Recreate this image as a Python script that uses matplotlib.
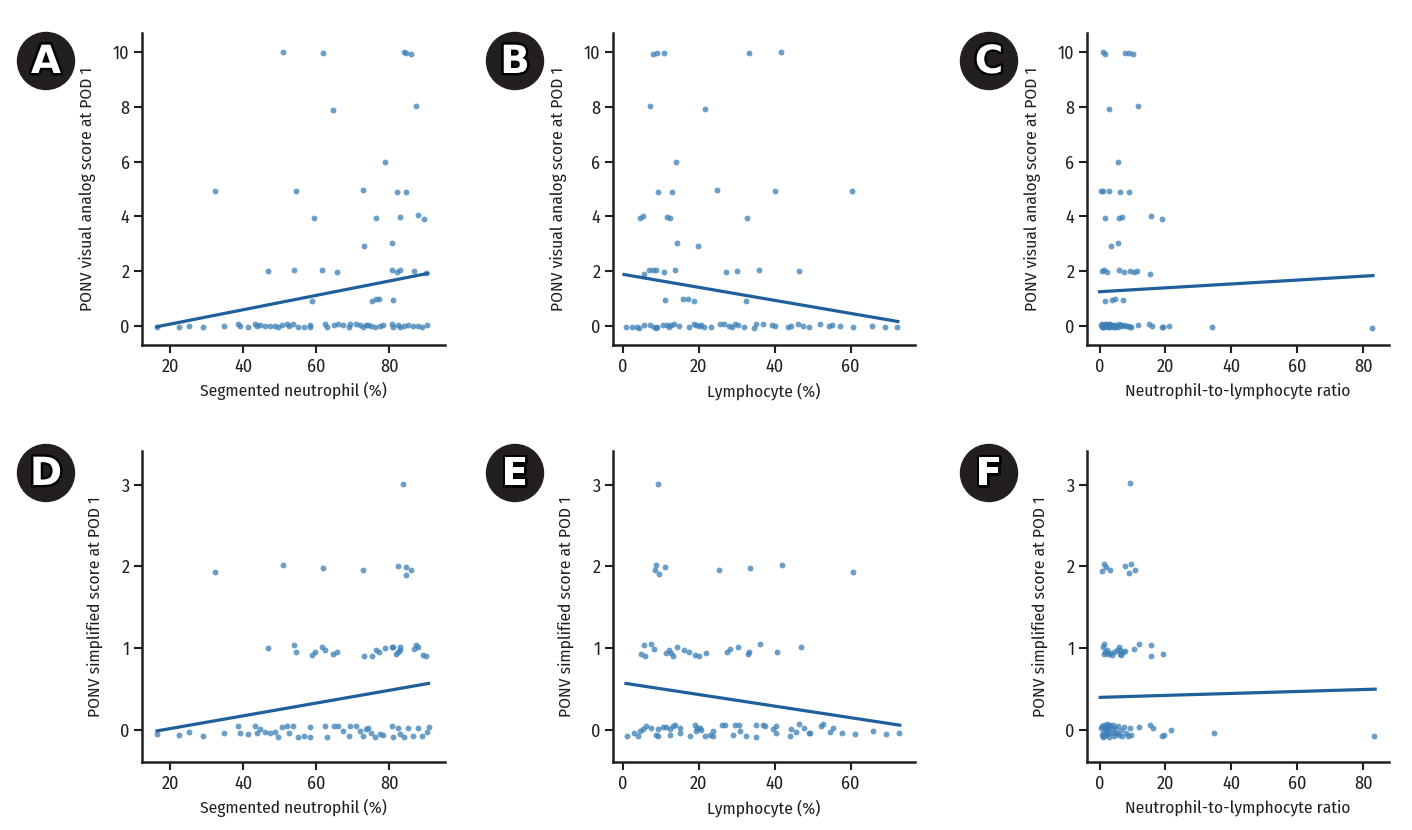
import matplotlib
matplotlib.use("Agg")
import matplotlib.pyplot as plt
import matplotlib.patheffects as pe
from matplotlib import font_manager as fm
from matplotlib.patches import Ellipse

# pick a condensed face that is actually installed
installed = {f.name for f in fm.fontManager.ttflist}
wanted = ['Fira Sans Condensed', 'PT Sans Narrow', 'Roboto Condensed', 'Archivo Narrow',
          'Liberation Sans Narrow']
fams = [f for f in wanted if f in installed] + ['DejaVu Sans']
plt.rcParams['font.family'] = fams

# ---- panel A: segmented neutrophil vs VAS ----
a_x = [50.8, 61.8, 84.1, 84.5, 85.9, 64.5, 87.2, 78.7, 32.2, 54.5, 72.8, 82.1, 84.5,
       59.4, 76.2, 82.9, 87.7, 89.5, 73.1, 80.8, 46.7, 53.9, 61.6, 65.7, 80.8, 82.1,
       82.8, 86.7, 90.0, 58.9, 75.2, 76.2, 77.2, 80.9,
       16.4, 22.3, 25.1, 28.9, 34.7, 38.7, 39.0, 41.4, 43.2, 43.7, 44.6, 46.0, 47.3,
       48.7, 49.4, 50.5, 52.1, 52.6, 53.7, 55.1, 56.5, 58.3, 58.3, 62.4, 63.0, 64.7,
       65.8, 67.4, 68.8, 69.2, 70.9, 72.0, 72.9, 73.6, 74.2, 74.9, 76.1, 77.4, 78.3,
       80.6, 81.1, 82.4, 82.9, 84.1, 85.2, 86.5, 87.9, 88.8, 90.2]
a_y = [10.0, 9.96, 10.0, 9.98, 9.93, 7.9, 8.02, 6.0, 4.93, 4.94, 4.95, 4.9, 4.9,
       3.94, 3.93, 3.98, 4.04, 3.91, 2.9, 3.01, 2.0, 2.05, 2.02, 1.96, 2.02, 1.95,
       2.02, 1.99, 1.91, 0.91, 0.91, 0.99, 0.96, 0.94,
       -0.04, -0.04, 0.0, -0.05, -0.01, 0.05, 0.0, -0.04, 0.05, 0.0, 0.02, 0.0, -0.01,
       0.0, -0.06, 0.04, 0.05, -0.02, 0.06, -0.05, -0.04, 0.02, -0.06, 0.05, -0.06, 0.04,
       0.06, 0.01, -0.04, 0.05, 0.06, 0.01, -0.04, 0.01, 0.04, -0.01, -0.04, -0.01, 0.01,
       0.05, -0.04, 0.02, -0.05, -0.01, 0.01, 0.0, -0.01, -0.04, 0.04]
a_line = ([16.4, 90.5], [-0.04, 1.91])

# ---- panel B: lymphocyte vs VAS ----
b_x = [8.1, 9.0, 10.9, 33.3, 41.6, 7.2, 21.7, 14.0, 9.4, 13.0, 24.9, 40.1, 60.4,
       4.6, 5.4, 11.6, 12.4, 32.7, 14.2, 19.9, 5.6, 7.0, 8.1, 8.8, 11.0, 13.9, 27.1,
       30.1, 35.9, 46.4, 11.3, 15.8, 17.1, 18.7, 32.4,
       0.8, 2.5, 3.8, 4.3, 5.6, 7.3, 8.4, 8.8, 9.1, 10.6, 11.6, 12.3, 12.8, 13.6, 14.8,
       17.4, 18.7, 19.3, 20.0, 20.6, 21.5, 23.2, 25.7, 26.8, 28.1, 28.9, 29.6, 30.3,
       32.0, 34.7, 35.1, 37.0, 39.2, 40.0, 43.6, 44.4, 46.1, 47.4, 49.0, 52.0, 54.2,
       55.1, 57.2, 60.7, 65.7, 69.0, 72.2]
b_y = [9.93, 9.99, 9.96, 9.96, 10.0, 8.02, 7.91, 5.99, 4.9, 4.9, 4.95, 4.94, 4.93,
       3.93, 4.02, 3.98, 3.94, 3.95, 3.01, 2.9, 1.9, 2.02, 2.02, 2.02, 1.95, 2.02, 1.96,
       2.01, 2.05, 2.0, 0.93, 0.99, 0.96, 0.91, 0.91,
       -0.06, -0.04, -0.04, -0.07, 0.04, 0.01, -0.04, -0.09, -0.04, 0.04, 0.01, -0.05,
       0.04, 0.06, -0.01, -0.06, 0.05, 0.02, -0.01, 0.01, -0.06, -0.05, 0.05, 0.05,
       -0.01, -0.05, 0.05, 0.01, -0.06, -0.07, 0.05, 0.05, 0.01, 0.0, -0.05, 0.0, 0.05,
       0.0, -0.04, 0.05, 0.0, 0.04, -0.02, -0.04, 0.0, -0.05, -0.04]
b_line = ([0.4, 72.4], [1.87, 0.15])

# ---- panel C: NLR vs VAS ----
c_x = [1.0, 1.8, 7.6, 9.0, 10.3, 2.9, 11.8, 5.5, 0.5, 1.2, 2.8, 6.2, 8.9, 1.8, 6.0,
       6.9, 15.6, 19.0, 3.6, 5.7, 0.9, 1.4, 2.2, 5.8, 7.3, 9.1, 10.4, 11.5, 15.4,
       1.8, 3.8, 4.6, 7.0,
       0.3, 0.6, 0.9, 1.1, 1.3, 1.5, 1.7, 1.9, 2.1, 2.3, 2.5, 2.7, 2.9, 3.2, 3.5, 3.8,
       4.1, 4.4, 4.8, 5.2, 5.6, 6.0, 6.4, 6.9, 7.4, 8.0, 8.6, 9.2, 9.5, 1.2, 1.8, 2.4,
       3.0, 4.6, 11.7, 15.1, 16.0, 18.8, 19.2, 21.2, 34.0, 82.5]
c_y = [10.0, 9.95, 9.96, 9.99, 9.93, 7.91, 8.02, 5.99, 4.93, 4.94, 4.94, 4.89, 4.89,
       3.94, 3.93, 3.96, 4.02, 3.91, 2.9, 3.01, 2.0, 2.02, 1.95, 2.02, 1.95, 2.0, 1.98,
       2.01, 1.9, 0.91, 0.94, 0.99, 0.93,
       0.02, -0.04, 0.05, -0.02, 0.04, -0.05, 0.01, 0.06, -0.03, 0.03, -0.06, 0.0,
       0.05, -0.04, 0.02, -0.01, 0.04, -0.05, 0.03, 0.0, -0.04, 0.06, 0.01, -0.03,
       0.03, -0.02, 0.0, -0.06, -0.05, -0.06, 0.03, -0.02, 0.05, -0.04, 0.01, 0.05,
       0.0, -0.06, -0.05, -0.01, -0.04, -0.07]
c_line = ([0.0, 82.9], [1.24, 1.83])

# ---- panel D: segmented neutrophil vs simplified score ----
d_x = [83.8, 32.2, 50.8, 61.7, 72.8, 82.3, 84.4, 84.5, 85.8,
       46.7, 53.9, 54.5, 58.9, 59.5, 61.6, 62.5, 64.5, 65.7, 73.1, 75.2, 76.2, 77.2,
       78.7, 80.8, 81.1, 81.9, 82.3, 82.8, 82.9, 86.7, 87.2, 87.7, 89.3, 90.0,
       16.4, 22.3, 25.1, 28.9, 34.7, 38.7, 39.0, 41.4, 43.2, 43.7, 44.6, 46.0, 47.3,
       48.7, 49.4, 50.5, 52.1, 52.6, 53.7, 55.1, 56.5, 58.3, 58.3, 62.4, 63.0, 64.7,
       65.8, 67.4, 68.8, 69.2, 70.9, 72.0, 72.9, 73.6, 74.2, 74.9, 76.1, 77.4, 78.3,
       80.6, 81.1, 82.4, 82.9, 84.1, 85.2, 86.5, 87.9, 88.8, 90.2, 90.7]
d_y = [3.01, 1.93, 2.02, 1.98, 1.96, 2.01, 1.99, 1.9, 1.95,
       1.0, 1.04, 0.95, 0.92, 0.95, 1.02, 0.98, 0.93, 0.95, 0.91, 0.91, 0.98, 0.95,
       1.0, 1.02, 1.02, 0.93, 0.96, 1.02, 0.98, 0.99, 1.04, 1.02, 0.92, 0.9,
       -0.05, -0.06, -0.02, -0.07, -0.04, 0.05, -0.03, -0.05, 0.05, -0.03, 0.01, -0.02,
       -0.04, -0.02, -0.09, 0.04, 0.05, -0.04, 0.05, -0.08, -0.07, 0.04, -0.08, 0.05,
       -0.09, 0.05, 0.05, -0.01, -0.07, 0.05, 0.05, -0.01, -0.07, 0.01, 0.03, -0.03,
       -0.08, -0.05, -0.06, 0.05, -0.08, 0.02, -0.05, -0.08, 0.03, -0.07, 0.02, -0.07,
       -0.02, 0.04]
d_line = ([16.4, 90.7], [-0.01, 0.57])

# ---- panel E: lymphocyte vs simplified score ----
e_x = [9.4, 8.5, 8.9, 9.6, 11.1, 25.3, 33.6, 41.9, 60.7,
       4.8, 6.0, 5.7, 7.5, 8.2, 11.5, 12.2, 12.8, 13.4, 14.2, 16.2, 17.4, 19.0, 20.2,
       21.9, 27.4, 28.2, 30.4, 33.0, 33.2, 36.2, 40.6, 46.8,
       1.3, 2.9, 4.1, 4.5, 5.5, 6.2, 7.5, 8.9, 9.3, 9.3, 10.6, 11.5, 12.4, 12.6, 13.3,
       13.8, 15.0, 15.2, 17.8, 19.0, 19.4, 19.7, 20.3, 20.7, 21.7, 22.9, 23.8, 23.8,
       26.1, 27.0, 29.0, 29.6, 30.5, 30.8, 32.5, 35.0, 35.2, 36.9, 37.5, 39.6, 40.3,
       40.4, 44.1, 44.4, 45.5, 46.4, 47.7, 48.9, 49.4, 52.3, 52.7, 54.5, 55.4, 57.7,
       61.2, 65.9, 69.4, 72.6]
e_y = [3.01, 1.95, 2.02, 1.91, 1.99, 1.96, 1.98, 2.02, 1.93,
       0.93, 0.91, 1.04, 1.05, 0.99, 0.94, 0.98, 0.94, 0.91, 1.02, 0.98, 0.95, 0.92,
       0.91, 0.94, 0.96, 0.99, 1.02, 0.93, 0.96, 1.05, 0.96, 1.01,
       -0.07, -0.04, -0.07, -0.01, 0.01, 0.05, 0.03, -0.06, -0.07, 0.01, 0.04, 0.04,
       0.01, -0.06, 0.05, 0.06, -0.04, 0.03, -0.07, 0.06, -0.01, 0.02, 0.03, 0.0,
       -0.07, -0.06, -0.07, -0.01, 0.06, 0.06, -0.06, 0.06, 0.06, -0.01, -0.07, -0.08,
       0.06, 0.06, 0.05, 0.01, -0.03, 0.05, -0.07, 0.01, -0.02, 0.07, 0.03, -0.03,
       -0.03, 0.05, 0.07, -0.02, 0.03, -0.03, -0.05, -0.01, -0.05, -0.04]
e_line = ([0.9, 72.9], [0.57, 0.06])

# ---- panel F: NLR vs simplified score ----
f_x = [9.2, 0.7, 1.3, 2.1, 3.2, 7.8, 9.0, 9.6, 10.7,
       1.0, 1.5, 1.8, 2.3, 2.7, 3.9, 4.4, 5.3, 5.8, 6.2, 6.6, 7.1, 7.6, 10.6, 12.0,
       15.7, 15.7, 19.2, 1.3, 3.3, 6.1,
       0.3, 0.6, 0.9, 1.1, 1.3, 1.5, 1.7, 1.9, 2.1, 2.3, 2.5, 2.7, 2.9, 3.2, 3.5, 3.8,
       4.1, 4.4, 4.8, 5.2, 5.6, 6.0, 6.4, 6.9, 7.4, 8.0, 8.6, 9.2, 9.5, 1.2, 1.8, 2.4,
       3.0, 4.6, 12.0, 15.2, 16.3, 18.8, 19.5, 21.6, 34.6, 83.3]
f_y = [3.02, 1.94, 2.03, 1.99, 1.96, 2.0, 1.92, 2.03, 1.96,
       1.01, 1.05, 0.96, 0.98, 0.93, 0.92, 0.95, 0.98, 1.02, 0.98, 0.92, 0.95, 0.97,
       0.99, 1.05, 1.04, 0.91, 0.93, 0.93, 0.94, 0.93,
       0.03, -0.06, 0.05, -0.03, 0.06, -0.07, 0.01, 0.04, -0.05, 0.07, -0.02, 0.03,
       -0.08, 0.05, -0.04, 0.01, 0.06, -0.07, 0.02, -0.03, 0.05, -0.06, 0.0, -0.07,
       0.04, -0.03, -0.07, 0.03, -0.06, -0.08, 0.02, -0.05, 0.06, -0.03, 0.04, 0.06,
       0.02, -0.07, -0.06, 0.0, -0.04, -0.07]
f_line = ([0.2, 83.6], [0.40, 0.50])

x_labels = ['Segmented neutrophil (%)', 'Lymphocyte (%)', 'Neutrophil-to-lymphocyte ratio']
y_labels = ['PONV visual analog score at POD 1', 'PONV simplified score at POD 1']
letters = ['A', 'B', 'C', 'D', 'E', 'F']

panels = [(a_x, a_y, a_line), (b_x, b_y, b_line), (c_x, c_y, c_line),
          (d_x, d_y, d_line), (e_x, e_y, e_line), (f_x, f_y, f_line)]

W, H = 1412, 830
fig = plt.figure(figsize=(W / 100, H / 100), dpi=100)

# axes boxes in pixels
cols_px = [(142, 445), (613, 915), (1087, 1389)]
rows_px = [(33, 345), (451, 762)]
xlims = [(12.3, 95.2), (-2.5, 76.9), (-3.8, 87.8)]
ylims = [(-0.71, 10.71), (-0.39, 3.41)]
xticks = [[20, 40, 60, 80], [0, 20, 40, 60], [0, 20, 40, 60, 80]]
yticks = [[0, 2, 4, 6, 8, 10], [0, 1, 2, 3]]
circle_px = [(46, 61), (515, 61), (989, 61)]

pt_color = '#3b7fb6'
line_color = '#1f5f9b'
ink = '#231f20'

for i, (xs, ys, line) in enumerate(panels):
    r, c = divmod(i, 3)
    l, rr = cols_px[c]
    t, b = rows_px[r]
    ax = fig.add_axes([l / W, 1 - b / H, (rr - l) / W, (b - t) / H])
    ax.scatter(xs, ys, s=18, color=pt_color, alpha=0.75, linewidths=0, zorder=2)
    ax.plot(line[0], line[1], color=line_color, lw=2.3, zorder=3)
    ax.set_xlim(xlims[c])
    ax.set_ylim(ylims[r])
    ax.set_xticks(xticks[c])
    ax.set_yticks(yticks[r])
    for s in ['top', 'right']:
        ax.spines[s].set_visible(False)
    for s in ['left', 'bottom']:
        ax.spines[s].set_linewidth(1.8)
        ax.spines[s].set_color(ink)
    ax.tick_params(length=6, width=1.5, color=ink, labelsize=13,
                   labelcolor=ink, pad=3)
    ax.set_xlabel(x_labels[c], fontsize=12.5, color=ink, labelpad=5)
    ax.set_ylabel(y_labels[r], fontsize=12.5, color=ink, labelpad=12)

    # panel letter badge
    cx, cy = circle_px[c]
    cy = cy + (412 if r == 1 else 0)
    fig.add_artist(Ellipse((cx / W, 1 - cy / H), 57 / W, 57 / H,
                           transform=fig.transFigure, color=ink))
    fig.text(cx / W, 1 - (cy + 1) / H, letters[i], ha='center', va='center',
             fontsize=28, fontweight='bold', color='white', family='DejaVu Sans',
             path_effects=[pe.withStroke(linewidth=3.5, foreground='black')])

fig.savefig('out.png', dpi=100)
